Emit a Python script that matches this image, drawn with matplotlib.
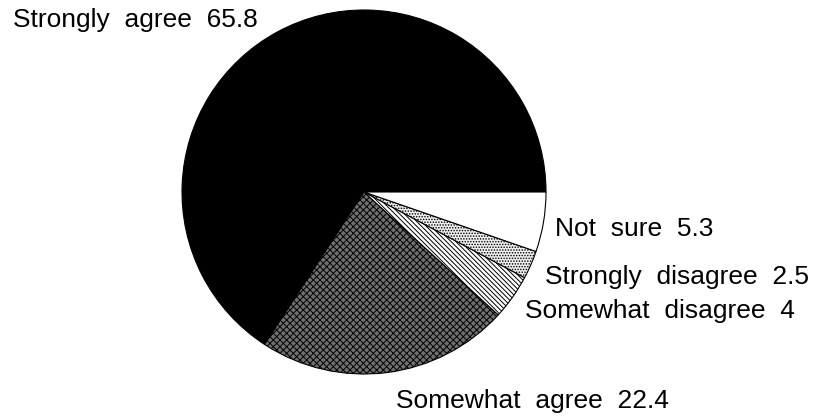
import matplotlib.pyplot as plt

# Survey responses (%)
labels = ['Strongly  agree  65.8', 'Somewhat  agree  22.4', 'Somewhat  disagree  4',
          'Strongly  disagree  2.5', 'Not  sure  5.3']
values = [65.8, 22.4, 4.0, 2.5, 5.3]

plt.rcParams['font.family'] = ['Liberation Sans', 'DejaVu Sans']
plt.rcParams['hatch.linewidth'] = 0.7

W, H = 828, 419
fig = plt.figure(figsize=(W / 100, H / 100), dpi=100)

# pie centre / radius in pixels (from top-left)
cx, cy, r = 364, 192, 182
ax = fig.add_axes([(cx - r) / W, (H - cy - r) / H, 2 * r / W, 2 * r / H])

wedges, _ = ax.pie(values, startangle=0, counterclock=True,
                   wedgeprops=dict(edgecolor='black', linewidth=0.8))
ax.set_xlim(-1.0, 1.0)
ax.set_ylim(-1.0, 1.0)
ax.set_aspect('equal')
ax.axis('off')

styles = [
    dict(facecolor='black', hatch=None),
    dict(facecolor='#707070', hatch='xxxxx'),
    dict(facecolor='white', hatch='\\' * 7),
    dict(facecolor='#eeeeee', hatch='......'),
    dict(facecolor='white', hatch=None),
]
for w, s in zip(wedges, styles):
    w.set_facecolor(s['facecolor'])
    if s['hatch']:
        w.set_hatch(s['hatch'])

# label positions: left x, baseline y (pixels from top)
label_pos = [(13, 27), (396, 408), (525, 318), (545, 284), (555, 236)]
for text, (x, y) in zip(labels, label_pos):
    fig.text(x / W, 1 - y / H, text, fontsize=19, ha='left', va='baseline')

fig.savefig('out.png', dpi=100)
